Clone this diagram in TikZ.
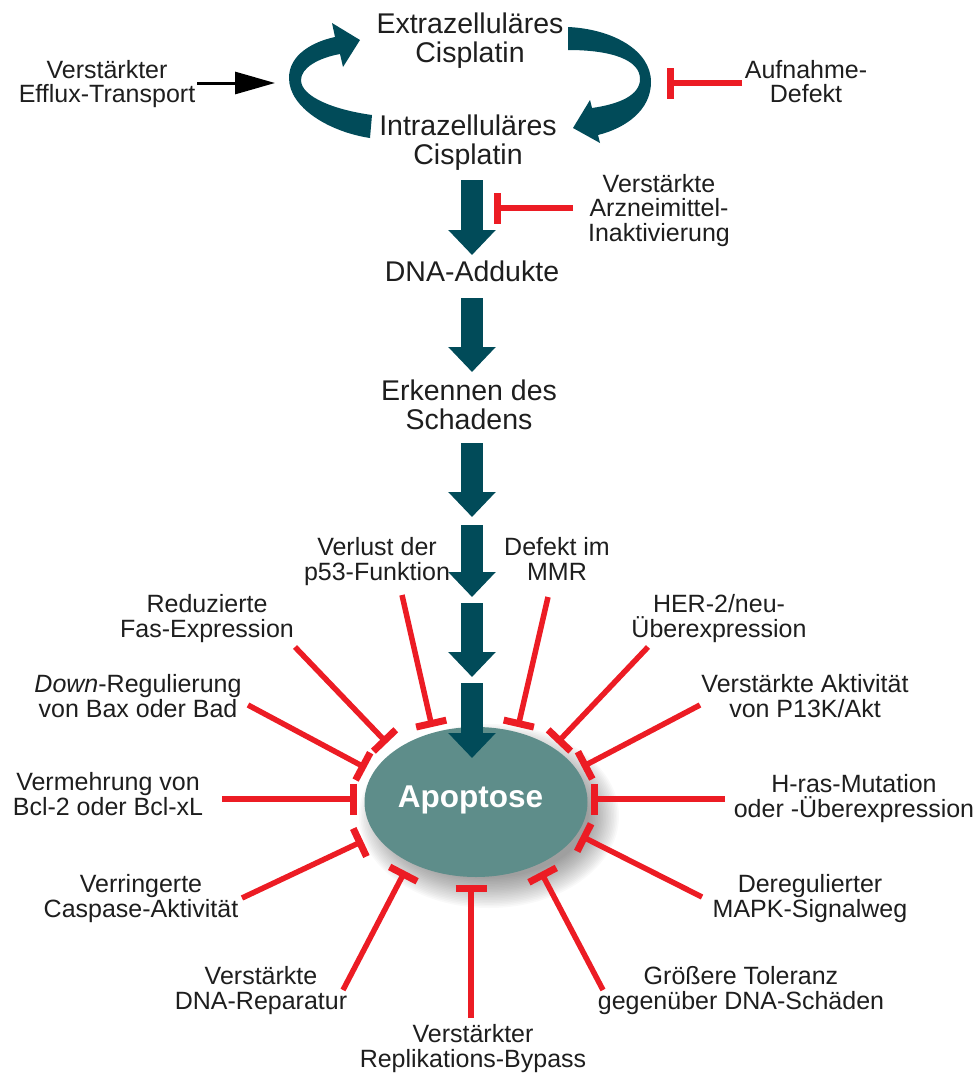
\documentclass[tikz,border=0pt]{standalone}
\usepackage{fontspec}
\setmainfont{Liberation Sans}
\usetikzlibrary{arrows.meta,shapes.geometric}
\definecolor{darkarrow}{RGB}{1,75,89}
\definecolor{apofill}{RGB}{94,141,138}
\definecolor{inhred}{RGB}{236,28,36}
\definecolor{txt}{RGB}{30,30,30}
\begin{document}
\begin{tikzpicture}[x=1pt,y=-1pt,
  lab/.style={font=\fontsize{25}{24.5}\selectfont, align=center, anchor=base, text=txt, inner sep=0pt},
  mainlab/.style={font=\fontsize{28.5}{29}\selectfont, align=center, anchor=base, text=txt, inner sep=0pt},
  inhib/.style={draw=inhred, line width=5.5pt, -{Bar[width=31pt,line width=7pt]}},
  bigarrow/.style={draw=darkarrow, line width=22pt, -{Triangle[width=46pt,length=25pt]}},
  effarrow/.style={draw=black, line width=3pt, -{Triangle[width=22pt,length=40pt]}},
  cyclearrow/.style={fill=darkarrow}
]
\useasboundingbox (0,0) rectangle (977,1074);

% ---------- top cycle ----------
\node[mainlab] (extra) at (470,62) {Extrazelluläres\\Cisplatin};
\node[mainlab] (intra) at (468,164) {Intrazelluläres\\Cisplatin};
\node[lab] (efflux) at (107,102.5) {Verstärkter\\Efflux-Transport};
\node[lab] (aufn) at (806,102.5) {Aufnahme-\\Defekt};
\node[lab] (inakt) at (659,241) {Verstärkte\\Arzneimittel-\\Inaktivierung};

% curved arrows
\fill[cyclearrow] (370,138) .. controls (330,132) and (289,108) .. (289,78)
  .. controls (289,55) and (312,42) .. (335,37) -- (332,23) -- (360,40) -- (343,67) -- (340,54)
  .. controls (318,58) and (301,68) .. (301,80)
  .. controls (301,97) and (335,110) .. (372,115) -- cycle;
\fill[cyclearrow] (568,27) .. controls (612,29) and (651,50) .. (651,82)
  .. controls (651,110) and (626,128) .. (598,135) -- (600,143) -- (573,128) -- (590,100) -- (592,108)
  .. controls (620,104) and (640,95) .. (640,79)
  .. controls (640,60) and (612,50) .. (568,50) -- cycle;

\coordinate (effS) at (197,83);
\coordinate (effE) at (275,83);
\draw[effarrow] (effS) -- (effE);
\coordinate (aufS) at (742,83);
\coordinate (aufE) at (667,83);
\draw[inhib] (aufS) -- (aufE);
\coordinate (inaS) at (573,208);
\coordinate (inaE) at (494,208);
\draw[inhib] (inaS) -- (inaE);

% ---------- main chain ----------
\node[mainlab] (dna) at (472,281) {DNA-Addukte};
\node[mainlab] (erk) at (469,429) {Erkennen des\\Schadens};

\coordinate (a1s) at (472,180); \coordinate (a1e) at (472,255);
\coordinate (a2s) at (472,298); \coordinate (a2e) at (472,372);
\coordinate (a3s) at (472,443); \coordinate (a3e) at (472,517);
\coordinate (a4s) at (472,525); \coordinate (a4e) at (472,597);
\coordinate (a5s) at (472,603); \coordinate (a5e) at (472,677);
\coordinate (a6s) at (472,683); \coordinate (a6e) at (472,758);
\draw[bigarrow] (a1s) -- (a1e);
\draw[bigarrow] (a2s) -- (a2e);
\draw[bigarrow] (a3s) -- (a3e);
\draw[bigarrow] (a4s) -- (a4e);
\draw[bigarrow] (a5s) -- (a5e);

% ---------- apoptosis ----------
\foreach \i in {0,...,19} {
  \fill[black,opacity=0.022] (489,816) ellipse [x radius={(130-1.6*\i)*1pt}, y radius={(92-1.6*\i)*1pt}];
}
\node[ellipse, fill=apofill, minimum width=223pt, minimum height=150pt, inner sep=0pt] (apo) at (476,802) {};
\node[font=\fontsize{31.5}{31.5}\selectfont\bfseries, text=white, anchor=base, inner sep=0pt] (apotext) at (470.5,807) {Apoptose};
\draw[bigarrow] (a6s) -- (a6e);

% ---------- inhibitor labels ----------
\node[lab] (p53) at (377,580) {Verlust der\\p53-Funktion};
\node[lab] (mmr) at (557,580) {Defekt im\\MMR};
\node[lab] (fas) at (207,637) {Reduzierte\\Fas-Expression};
\node[lab] (bax) at (138,717) {\textit{Down}-Regulierung\\von Bax oder Bad};
\node[lab] (bcl) at (108,815) {Vermehrung von\\Bcl-2 oder Bcl-xL};
\node[lab] (her) at (719,637) {HER-2/neu-\\Überexpression};
\node[lab] (pik) at (805,717) {Verstärkte Aktivität\\von P13K/Akt};
\node[lab] (hras) at (854,817) {H-ras-Mutation\\oder -Überexpression};
\node[lab] (casp) at (141,917) {Verringerte\\Caspase-Aktivität};
\node[lab] (rep) at (261,1009) {Verstärkte\\DNA-Reparatur};
\node[lab] (byp) at (473,1067) {Verstärkter\\Replikations-Bypass};
\node[lab] (mapk) at (810,917) {Deregulierter\\MAPK-Signalweg};
\node[lab] (tol) at (741,1009) {Größere Toleranz\\gegenüber DNA-Schäden};

% ---------- inhibitor connectors ----------
\coordinate (p53s) at (402,595);  \coordinate (p53e) at (432,727);
\coordinate (mmrs) at (548,597);  \coordinate (mmre) at (518,727);
\coordinate (fass) at (295,647);  \coordinate (fase) at (387,743);
\coordinate (baxs) at (248,705);  \coordinate (baxe) at (366,768);
\coordinate (bcls) at (222,799);  \coordinate (bcle) at (357,799);
\coordinate (hers) at (648,647);  \coordinate (here) at (557,743);
\coordinate (piks) at (700,705);  \coordinate (pike) at (582,767);
\coordinate (hrass) at (725,799); \coordinate (hrase) at (591,799);
\coordinate (casps) at (242,898); \coordinate (caspe) at (363,841);
\coordinate (reps) at (343,990);  \coordinate (repe) at (405,871);
\coordinate (byps) at (471,1018); \coordinate (bype) at (471,885);
\coordinate (tols) at (603,990);  \coordinate (tole) at (541,872);
\coordinate (mapks) at (702,897); \coordinate (mapke) at (581,836);
\foreach \n in {p53,mmr,fas,bax,bcl,her,pik,hras,casp,rep,byp,tol,mapk} {
  \draw[inhib] (\n s) -- (\n e);
}
\end{tikzpicture}
\end{document}
